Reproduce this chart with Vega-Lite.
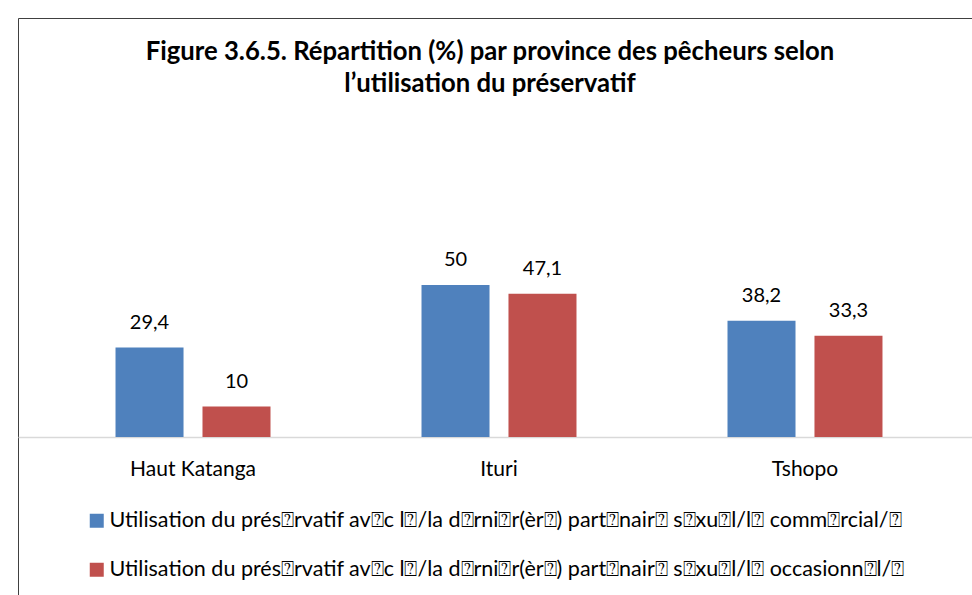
{
  "$schema": "https://vega.github.io/schema/vega-lite/v6.json",
  "width": 962,
  "height": 582,
  "autosize": "none",
  "padding": {"left": 18, "top": 18, "right": 0, "bottom": 0},
  "background": "white",
  "title": {
    "text": ["Figure 3.6.5. Répartition (%) par province des pêcheurs selon", "l’utilisation du préservatif"],
    "font": "Lato",
    "fontSize": 25.7,
    "fontWeight": "bold",
    "color": "black",
    "anchor": "middle",
    "frame": "group",
    "offset": -80,
    "dx": -9,
    "lineHeight": 32
  },
  "config": {
    "view": {"stroke": "#404040", "strokeWidth": 1}
  },
  "data": {
    "values": [
      {"province": "Haut Katanga", "serie": "Utilisation du prés⍰rvatif av⍰c l⍰/la d⍰rni⍰r(èr⍰) part⍰nair⍰ s⍰xu⍰l/l⍰ comm⍰rcial/⍰", "value": 29.4, "label": "29,4"},
      {"province": "Haut Katanga", "serie": "Utilisation du prés⍰rvatif av⍰c l⍰/la d⍰rni⍰r(èr⍰) part⍰nair⍰ s⍰xu⍰l/l⍰ occasionn⍰l/⍰", "value": 10, "label": "10"},
      {"province": "Ituri", "serie": "Utilisation du prés⍰rvatif av⍰c l⍰/la d⍰rni⍰r(èr⍰) part⍰nair⍰ s⍰xu⍰l/l⍰ comm⍰rcial/⍰", "value": 50, "label": "50"},
      {"province": "Ituri", "serie": "Utilisation du prés⍰rvatif av⍰c l⍰/la d⍰rni⍰r(èr⍰) part⍰nair⍰ s⍰xu⍰l/l⍰ occasionn⍰l/⍰", "value": 47.1, "label": "47,1"},
      {"province": "Tshopo", "serie": "Utilisation du prés⍰rvatif av⍰c l⍰/la d⍰rni⍰r(èr⍰) part⍰nair⍰ s⍰xu⍰l/l⍰ comm⍰rcial/⍰", "value": 38.2, "label": "38,2"},
      {"province": "Tshopo", "serie": "Utilisation du prés⍰rvatif av⍰c l⍰/la d⍰rni⍰r(èr⍰) part⍰nair⍰ s⍰xu⍰l/l⍰ occasionn⍰l/⍰", "value": 33.3, "label": "33,3"}
    ]
  },
  "encoding": {
    "x": {
      "field": "province",
      "type": "nominal",
      "sort": ["Haut Katanga", "Ituri", "Tshopo"],
      "scale": {"paddingInner": 0.4935, "paddingOuter": 0.3187},
      "axis": {
        "title": null,
        "labelAngle": 0,
        "ticks": false,
        "offset": -163,
        "domainColor": "#d9d9d9",
        "domainWidth": 1.5,
        "labelPadding": 21,
        "labelFont": "Lato",
        "labelFontSize": 21,
        "labelColor": "black"
      }
    },
    "xOffset": {
      "field": "serie",
      "type": "nominal",
      "sort": null,
      "scale": {"paddingInner": 0.218, "paddingOuter": 0}
    },
    "y": {
      "field": "value",
      "type": "quantitative",
      "scale": {"domain": [-53.6, 137.8], "nice": false, "zero": false},
      "axis": null
    }
  },
  "layer": [
    {
      "mark": {"type": "bar"},
      "encoding": {
        "color": {
          "field": "serie",
          "type": "nominal",
          "sort": null,
          "scale": {"range": ["#4F81BD", "#C0504D"]},
          "legend": {
            "title": null,
            "orient": "none",
            "legendX": 68,
            "legendY": 492,
            "symbolType": "square",
            "symbolSize": 196,
            "symbolStrokeWidth": 0,
            "labelFont": "Lato",
            "labelFontSize": 21.5,
            "labelColor": "black",
            "labelLimit": 1000,
            "rowPadding": 26,
            "labelOffset": 2
          }
        }
      }
    },
    {
      "mark": {"type": "text", "baseline": "bottom", "dy": -15, "font": "Lato", "fontSize": 20, "color": "black"},
      "encoding": {
        "text": {"field": "label"}
      }
    }
  ]
}
